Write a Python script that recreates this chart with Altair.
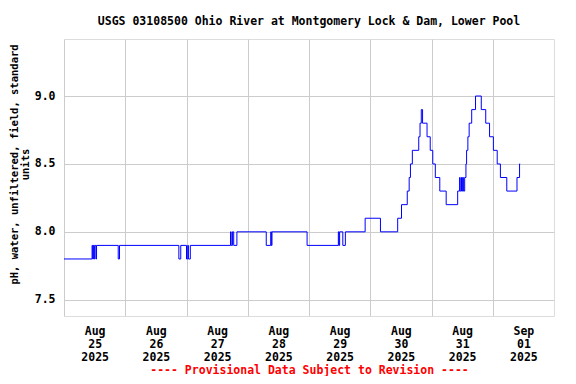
import altair as alt
import pandas as pd

# change points of the 15-minute pH record (value holds until next time)
times = [
    "2025-08-25 00:00", "2025-08-25 11:00", "2025-08-25 11:15", "2025-08-25 11:30",
    "2025-08-25 11:45", "2025-08-25 12:00", "2025-08-25 12:30", "2025-08-25 12:45",
    "2025-08-25 21:15", "2025-08-25 21:45",
    "2025-08-26 21:00", "2025-08-26 21:45", "2025-08-27 00:00", "2025-08-27 00:30",
    "2025-08-27 00:45", "2025-08-27 01:30", "2025-08-27 17:15", "2025-08-27 17:30",
    "2025-08-27 18:00", "2025-08-27 18:30", "2025-08-27 19:45",
    "2025-08-28 07:15", "2025-08-28 09:00", "2025-08-28 09:15", "2025-08-28 09:30",
    "2025-08-28 23:15",
    "2025-08-29 11:30", "2025-08-29 11:45", "2025-08-29 12:00", "2025-08-29 13:15",
    "2025-08-29 14:15", "2025-08-29 22:00",
    "2025-08-30 04:00", "2025-08-30 10:45", "2025-08-30 12:15", "2025-08-30 14:30",
    "2025-08-30 15:15", "2025-08-30 15:45", "2025-08-30 16:30", "2025-08-30 19:00",
    "2025-08-30 19:30", "2025-08-30 20:00", "2025-08-30 20:30", "2025-08-30 22:15",
    "2025-08-30 23:30",
    "2025-08-31 00:30", "2025-08-31 01:30", "2025-08-31 03:15", "2025-08-31 05:45",
    "2025-08-31 10:15", "2025-08-31 11:00", "2025-08-31 11:15", "2025-08-31 11:45",
    "2025-08-31 12:00", "2025-08-31 12:15", "2025-08-31 12:30", "2025-08-31 13:00",
    "2025-08-31 13:30", "2025-08-31 13:45", "2025-08-31 14:15", "2025-08-31 14:45",
    "2025-08-31 15:45", "2025-08-31 17:15", "2025-08-31 19:30", "2025-08-31 21:15",
    "2025-08-31 22:45",
    "2025-09-01 00:15", "2025-09-01 01:45", "2025-09-01 03:00", "2025-09-01 05:30",
    "2025-09-01 09:30", "2025-09-01 10:30", "2025-09-01 10:45",
]
ph = [
    7.8, 7.9, 7.8, 7.9,
    7.8, 7.9, 7.8, 7.9,
    7.8, 7.9,
    7.8, 7.9, 7.8, 7.9,
    7.8, 7.9, 8.0, 7.9,
    8.0, 7.9, 8.0,
    7.9, 8.0, 7.9, 8.0,
    7.9,
    8.0, 7.9, 8.0, 7.9,
    8.0, 8.1,
    8.0, 8.1, 8.2, 8.3,
    8.4, 8.5, 8.6, 8.7,
    8.8, 8.9, 8.8, 8.7,
    8.6,
    8.5, 8.4, 8.3, 8.2,
    8.3, 8.4, 8.3, 8.4,
    8.3, 8.4, 8.3, 8.4,
    8.5, 8.6, 8.7, 8.8,
    8.9, 9.0, 8.9, 8.8,
    8.7,
    8.6, 8.5, 8.4, 8.3,
    8.4, 8.5, 8.5,
]

day_ticks = [alt.DateTime(year=2025, month=8, date=d) for d in range(25, 32)] + [
    alt.DateTime(year=2025, month=9, date=1)
]
x_domain = [alt.DateTime(year=2025, month=8, date=25), alt.DateTime(year=2025, month=9, date=2)]
y_ticks = [7.5, 8.0, 8.5, 9.0]
y_domain = [7.38, 9.42]

df = pd.DataFrame({"time": times, "ph": ph})

FONT = "DejaVu Sans Mono"
W, H = 490, 277

chart = (
    alt.Chart(df)
    .mark_line(interpolate="step-after", color="#0000ff", strokeWidth=1)
    .encode(
        x=alt.X(
            "time:T",
            scale=alt.Scale(domain=x_domain),
            axis=alt.Axis(
                values=day_ticks,
                labelExpr="[timeFormat(datum.value, '%b'), timeFormat(datum.value, '%d'), timeFormat(datum.value, '%Y')]",
                labelOffset=W / 16,
                labelOverlap=False,
                labelFlush=False,
                labelBound=False,
                labelFont=FONT,
                labelFontSize=11.5,
                labelFontWeight="bold",
                labelColor="black",
                labelLineHeight=13,
                labelPadding=9,
                ticks=False,
                domain=False,
                gridColor="#cccccc",
                title="---- Provisional Data Subject to Revision ----",
                titleFont=FONT,
                titleFontSize=11.5,
                titleFontWeight="bold",
                titleColor="red",
                titleBaseline="alphabetic",
                titleY=57,
            ),
        ),
        y=alt.Y(
            "ph:Q",
            scale=alt.Scale(domain=y_domain, nice=False, zero=False),
            axis=alt.Axis(
                values=y_ticks,
                format=".1f",
                labelFont=FONT,
                labelFontSize=11.5,
                labelFontWeight="bold",
                labelColor="black",
                labelPadding=9,
                ticks=False,
                domain=False,
                gridColor="#cccccc",
                title=["pH, water, unfiltered, field, standard", "units"],
                titleFont=FONT,
                titleFontSize=10.5,
                titleFontWeight="bold",
                titleColor="black",
                titleLineHeight=11,
                titleBaseline="bottom",
                titleX=-45,
                titleY=125,
            ),
        ),
    )
    .properties(
        width=W,
        height=H,
        autosize=alt.AutoSizeParams(type="none"),
        padding={"left": 56, "top": 31, "right": 14, "bottom": 60},
        title=alt.TitleParams(
            "USGS 03108500 Ohio River at Montgomery Lock & Dam, Lower Pool",
            font=FONT,
            fontSize=11.5,
            fontWeight="bold",
            color="black",
            anchor="middle",
            frame="group",
            baseline="alphabetic",
            offset=3,
        ),
    )
    .configure_view(stroke="black", strokeWidth=1)
    .configure(background="white")
)

chart.save("out.html", embed_options={"renderer": "svg", "actions": False})
